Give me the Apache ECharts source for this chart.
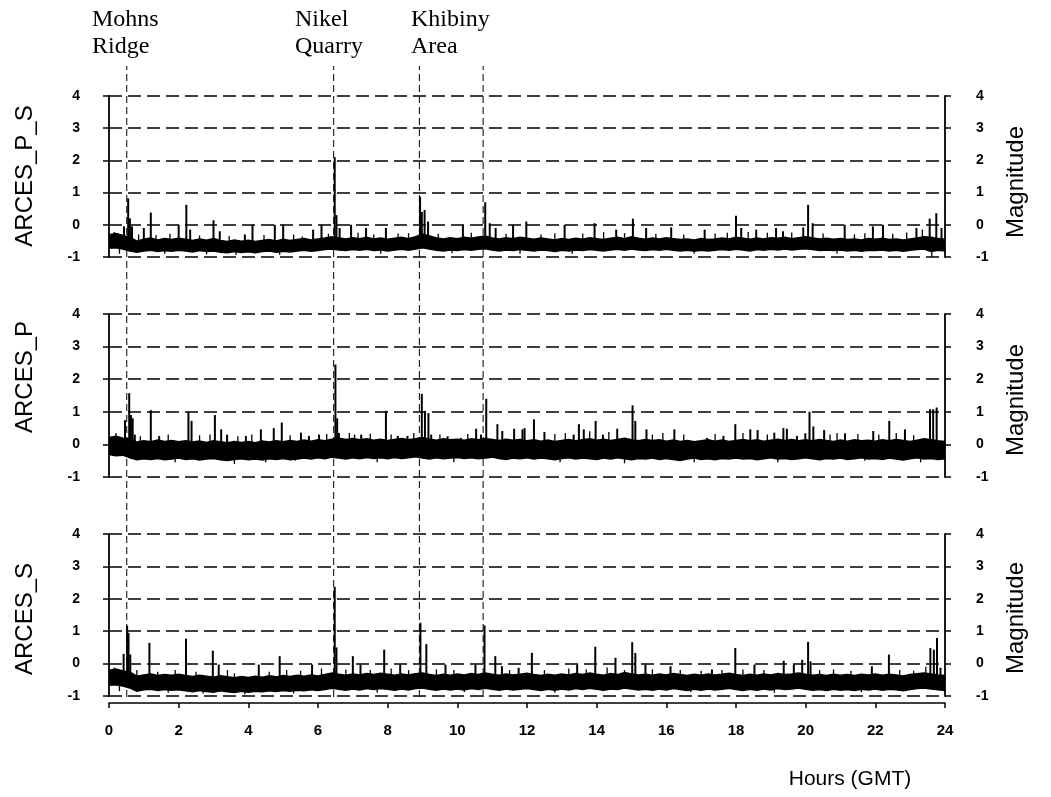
<!DOCTYPE html>
<html><head><meta charset="utf-8">
<script src="https://cdn.jsdelivr.net/npm/echarts@6/dist/echarts.min.js"></script>
<style>html,body{margin:0;padding:0;background:#fff}#c{width:1051px;height:797px}</style>
</head><body><div id="c"></div>
<script>
// ---------- data ----------
const panelNames = ['ARCES_P_S', 'ARCES_P', 'ARCES_S'];
const yTicks = [-1, 0, 1, 2, 3, 4];
const xTicks = [0, 2, 4, 6, 8, 10, 12, 14, 16, 18, 20, 22, 24];
const bandStep = 0.2; // hours between envelope samples

// upper / lower envelope of the noise band, every 0.2 h from 0 to 24
const hi1 = [-0.32,-0.28,-0.34,-0.40,-0.52,-0.46,-0.42,-0.48,-0.44,-0.47,
-0.43,-0.46,-0.50,-0.45,-0.49,-0.44,-0.50,-0.53,-0.48,-0.52,
-0.49,-0.53,-0.50,-0.47,-0.51,-0.46,-0.50,-0.47,-0.44,-0.48,
-0.45,-0.42,-0.38,-0.42,-0.45,-0.41,-0.44,-0.40,-0.45,-0.42,
-0.46,-0.43,-0.40,-0.44,-0.38,-0.30,-0.36,-0.42,-0.45,-0.41,
-0.44,-0.40,-0.43,-0.39,-0.36,-0.42,-0.45,-0.41,-0.44,-0.40,
-0.43,-0.46,-0.42,-0.45,-0.48,-0.44,-0.47,-0.43,-0.46,-0.41,
-0.44,-0.47,-0.43,-0.40,-0.44,-0.38,-0.43,-0.46,-0.42,-0.45,
-0.41,-0.44,-0.47,-0.45,-0.48,-0.44,-0.47,-0.45,-0.42,-0.45,
-0.40,-0.43,-0.46,-0.42,-0.45,-0.41,-0.43,-0.40,-0.44,-0.41,
-0.38,-0.42,-0.45,-0.43,-0.46,-0.44,-0.47,-0.45,-0.48,-0.44,
-0.46,-0.43,-0.47,-0.45,-0.48,-0.45,-0.42,-0.38,-0.40,-0.44,
-0.46];
const lo1 = [-0.72,-0.70,-0.74,-0.80,-0.84,-0.80,-0.78,-0.82,-0.79,-0.81,
-0.78,-0.80,-0.83,-0.79,-0.82,-0.80,-0.84,-0.86,-0.82,-0.85,
-0.83,-0.86,-0.82,-0.80,-0.84,-0.81,-0.83,-0.80,-0.78,-0.81,
-0.79,-0.76,-0.74,-0.77,-0.79,-0.76,-0.78,-0.75,-0.79,-0.77,
-0.80,-0.77,-0.75,-0.78,-0.74,-0.70,-0.74,-0.78,-0.80,-0.77,
-0.79,-0.76,-0.78,-0.75,-0.73,-0.77,-0.80,-0.77,-0.79,-0.76,
-0.78,-0.80,-0.77,-0.79,-0.82,-0.78,-0.80,-0.77,-0.79,-0.76,
-0.78,-0.80,-0.77,-0.75,-0.78,-0.74,-0.77,-0.79,-0.76,-0.78,
-0.75,-0.78,-0.80,-0.78,-0.81,-0.78,-0.80,-0.78,-0.76,-0.78,
-0.75,-0.77,-0.80,-0.76,-0.78,-0.75,-0.77,-0.74,-0.77,-0.75,
-0.73,-0.76,-0.79,-0.77,-0.79,-0.77,-0.80,-0.78,-0.81,-0.78,
-0.79,-0.77,-0.80,-0.78,-0.81,-0.78,-0.76,-0.74,-0.82,-0.78,
-0.80];
const hi2 = [0.20,0.24,0.18,0.16,0.06,0.10,0.07,0.12,0.08,0.11,
0.07,0.10,0.06,0.09,0.05,0.10,0.07,0.04,0.08,0.05,
0.08,0.04,0.09,0.06,0.10,0.07,0.11,0.08,0.12,0.09,
0.13,0.10,0.15,0.18,0.14,0.17,0.13,0.16,0.12,0.15,
0.11,0.14,0.17,0.13,0.16,0.20,0.15,0.12,0.16,0.13,
0.15,0.12,0.16,0.13,0.17,0.14,0.11,0.15,0.12,0.14,
0.10,0.13,0.09,0.12,0.08,0.11,0.14,0.10,0.13,0.16,
0.12,0.15,0.11,0.14,0.18,0.13,0.10,0.14,0.11,0.13,
0.09,0.12,0.08,0.11,0.07,0.10,0.13,0.09,0.12,0.08,
0.11,0.14,0.10,0.13,0.09,0.12,0.15,0.11,0.14,0.10,
0.13,0.10,0.14,0.11,0.08,0.12,0.09,0.13,0.10,0.12,
0.09,0.13,0.10,0.14,0.11,0.08,0.12,0.16,0.13,0.10,
0.08];
const lo2 = [-0.30,-0.34,-0.32,-0.40,-0.46,-0.43,-0.45,-0.42,-0.46,-0.44,
-0.41,-0.45,-0.43,-0.47,-0.44,-0.42,-0.46,-0.48,-0.45,-0.43,
-0.46,-0.44,-0.47,-0.43,-0.45,-0.42,-0.46,-0.44,-0.41,-0.44,
-0.40,-0.43,-0.38,-0.41,-0.44,-0.40,-0.43,-0.39,-0.42,-0.40,
-0.43,-0.39,-0.42,-0.40,-0.37,-0.41,-0.44,-0.40,-0.43,-0.41,
-0.39,-0.42,-0.40,-0.43,-0.41,-0.38,-0.42,-0.45,-0.41,-0.43,
-0.40,-0.44,-0.41,-0.43,-0.46,-0.42,-0.40,-0.44,-0.41,-0.43,
-0.45,-0.41,-0.44,-0.40,-0.43,-0.46,-0.42,-0.44,-0.41,-0.45,
-0.42,-0.45,-0.48,-0.44,-0.41,-0.45,-0.43,-0.46,-0.42,-0.44,
-0.41,-0.44,-0.42,-0.46,-0.43,-0.40,-0.44,-0.42,-0.45,-0.43,
-0.40,-0.43,-0.46,-0.42,-0.44,-0.41,-0.45,-0.43,-0.40,-0.44,
-0.42,-0.45,-0.41,-0.44,-0.47,-0.43,-0.40,-0.44,-0.42,-0.45,
-0.43];
const hi3 = [-0.22,-0.18,-0.24,-0.28,-0.40,-0.36,-0.33,-0.38,-0.35,-0.37,
-0.34,-0.38,-0.41,-0.37,-0.40,-0.43,-0.39,-0.42,-0.45,-0.41,
-0.44,-0.40,-0.43,-0.39,-0.42,-0.38,-0.41,-0.37,-0.40,-0.36,
-0.39,-0.35,-0.30,-0.34,-0.37,-0.33,-0.36,-0.32,-0.35,-0.31,
-0.34,-0.37,-0.33,-0.36,-0.32,-0.30,-0.35,-0.38,-0.34,-0.37,
-0.33,-0.36,-0.32,-0.35,-0.30,-0.34,-0.37,-0.33,-0.36,-0.34,
-0.31,-0.35,-0.38,-0.34,-0.37,-0.33,-0.36,-0.32,-0.35,-0.30,
-0.34,-0.37,-0.32,-0.35,-0.29,-0.33,-0.36,-0.34,-0.37,-0.33,
-0.36,-0.32,-0.35,-0.38,-0.34,-0.37,-0.33,-0.36,-0.34,-0.31,
-0.35,-0.38,-0.34,-0.37,-0.33,-0.36,-0.32,-0.35,-0.33,-0.30,
-0.34,-0.37,-0.35,-0.38,-0.34,-0.37,-0.35,-0.38,-0.34,-0.36,
-0.33,-0.37,-0.34,-0.36,-0.39,-0.35,-0.32,-0.30,-0.33,-0.36,
-0.38];
const lo3 = [-0.66,-0.64,-0.68,-0.74,-0.84,-0.80,-0.78,-0.82,-0.79,-0.81,
-0.80,-0.83,-0.86,-0.82,-0.85,-0.87,-0.83,-0.86,-0.88,-0.84,
-0.87,-0.84,-0.86,-0.83,-0.85,-0.82,-0.84,-0.81,-0.83,-0.80,
-0.82,-0.79,-0.75,-0.78,-0.81,-0.77,-0.80,-0.76,-0.79,-0.76,
-0.78,-0.81,-0.77,-0.80,-0.76,-0.74,-0.78,-0.81,-0.77,-0.80,
-0.77,-0.80,-0.76,-0.79,-0.75,-0.78,-0.81,-0.77,-0.80,-0.78,
-0.76,-0.79,-0.82,-0.78,-0.81,-0.77,-0.80,-0.76,-0.79,-0.75,
-0.78,-0.81,-0.77,-0.79,-0.74,-0.77,-0.80,-0.78,-0.81,-0.77,
-0.80,-0.76,-0.79,-0.82,-0.78,-0.81,-0.77,-0.80,-0.78,-0.75,
-0.79,-0.82,-0.78,-0.81,-0.77,-0.80,-0.76,-0.79,-0.77,-0.74,
-0.78,-0.81,-0.79,-0.82,-0.78,-0.81,-0.79,-0.82,-0.78,-0.80,
-0.77,-0.81,-0.78,-0.80,-0.83,-0.79,-0.76,-0.74,-0.77,-0.80,
-0.82];

// detections / spikes: [hour, peak magnitude]
const spikes1 = [[0.43,-0.05],[0.55,0.82],[0.60,0.2],[0.66,-0.05],[1.0,-0.1],[1.2,0.38],[2.0,0.0],[2.22,0.62],[2.33,-0.15],[3.0,0.14],[3.18,-0.2],[3.9,-0.3],[4.12,0.0],[4.76,0.0],[5.0,0.0],[5.86,-0.15],[6.1,0.0],[6.48,2.1],[6.53,0.3],[6.62,-0.1],[6.95,0.0],[7.38,-0.1],[7.95,-0.1],[8.93,0.88],[8.98,0.4],[9.06,0.46],[9.16,0.1],[10.16,0.0],[10.8,0.7],[10.93,0.05],[11.1,-0.1],[11.6,0.0],[11.98,0.1],[13.08,0.0],[13.94,0.05],[14.56,-0.15],[15.04,0.19],[15.42,-0.1],[16.14,-0.08],[17.1,-0.15],[18.0,0.28],[18.15,-0.1],[18.58,-0.15],[19.15,-0.1],[19.35,-0.2],[19.93,-0.08],[20.07,0.62],[20.2,0.05],[21.12,0.0],[21.93,-0.05],[22.22,0.0],[23.18,-0.1],[23.56,0.19],[23.75,0.36],[23.9,-0.1]];
const spikes2 = [[0.46,0.74],[0.58,1.57],[0.63,0.9],[0.68,0.8],[0.74,0.3],[1.2,1.05],[1.44,0.26],[2.28,1.0],[2.37,0.72],[3.04,0.9],[3.22,0.46],[3.39,0.3],[3.93,0.26],[4.36,0.46],[4.73,0.5],[4.96,0.67],[5.51,0.36],[5.74,0.26],[6.03,0.3],[6.5,2.45],[6.55,0.8],[6.6,0.35],[7.24,0.3],[7.95,1.03],[8.29,0.26],[8.57,0.26],[8.98,1.55],[9.07,1.03],[9.17,0.96],[9.25,0.3],[9.72,0.25],[10.1,0.2],[10.54,0.48],[10.68,0.3],[10.83,1.4],[11.15,0.62],[11.29,0.41],[11.63,0.48],[11.87,0.46],[11.93,0.5],[12.2,0.77],[12.5,0.38],[13.34,0.3],[13.49,0.62],[13.63,0.46],[13.97,0.72],[14.18,0.3],[14.59,0.48],[15.03,1.2],[15.11,0.72],[15.43,0.46],[16.23,0.46],[17.17,0.2],[17.64,0.26],[17.98,0.62],[18.41,0.46],[18.62,0.44],[19.1,0.36],[19.36,0.5],[19.46,0.48],[19.75,0.26],[19.99,0.34],[20.11,1.0],[20.22,0.55],[20.53,0.44],[21.13,0.34],[21.94,0.41],[22.4,0.72],[22.85,0.46],[23.57,1.08],[23.66,1.08],[23.76,1.13]];
const spikes3 = [[0.42,0.3],[0.52,1.17],[0.56,0.95],[0.61,0.28],[1.16,0.64],[2.21,0.77],[2.98,0.4],[3.15,-0.03],[4.3,-0.03],[4.9,0.23],[5.83,-0.03],[6.48,2.37],[6.53,0.5],[7.0,0.23],[7.22,-0.03],[7.9,0.43],[8.36,-0.03],[8.94,1.26],[9.11,0.6],[9.66,-0.03],[10.52,-0.03],[10.78,1.18],[11.09,0.23],[11.28,-0.08],[11.76,-0.13],[12.14,0.33],[13.44,-0.03],[13.96,0.52],[14.54,0.18],[15.02,0.66],[15.11,0.33],[15.4,-0.03],[16.12,-0.08],[17.31,-0.18],[17.98,0.48],[18.53,-0.03],[19.37,0.09],[19.66,-0.03],[19.9,0.12],[20.07,0.67],[20.14,0.07],[21.9,-0.08],[22.39,0.28],[23.58,0.48],[23.68,0.43],[23.77,0.79],[23.87,-0.13]];
// small excursions above / below the noise band: [hour, magnitude]
const minor1 = [[0.15,-0.22],[0.3,-0.9],[0.85,-0.3],[1.35,-0.32],[1.6,-0.9],[1.75,-0.28],[2.6,-0.33],[2.8,-0.92],[3.45,-0.35],[3.65,-0.94],[4.45,-0.32],[4.9,-0.93],[5.3,-0.3],[5.55,-0.36],[6.3,-0.28],[7.15,-0.25],[7.6,-0.3],[7.8,-0.9],[8.3,-0.27],[8.6,-0.26],[9.45,-0.28],[9.85,-0.88],[10.4,-0.25],[11.4,-0.28],[11.8,-0.9],[12.4,-0.3],[12.8,-0.26],[13.3,-0.9],[13.6,-0.27],[14.2,-0.23],[14.8,-0.26],[15.7,-0.28],[16.5,-0.3],[16.8,-0.9],[17.4,-0.27],[17.75,-0.25],[18.35,-0.22],[18.9,-0.25],[19.6,-0.24],[20.5,-0.27],[20.9,-0.9],[21.4,-0.3],[21.7,-0.26],[22.5,-0.28],[22.9,-0.24],[23.35,-0.15],[23.62,-1.0]];
const minor2 = [[0.2,0.35],[0.9,0.25],[1.7,0.3],[1.9,-0.55],[2.6,0.28],[2.9,0.3],[3.6,-0.6],[3.7,0.25],[4.1,0.3],[4.5,-0.55],[5.2,0.28],[5.35,-0.5],[6.25,0.32],[6.9,0.35],[7.05,0.3],[7.5,0.33],[7.7,-0.55],[8.1,0.3],[8.75,0.35],[9.5,0.3],[9.9,-0.55],[10.3,0.32],[12.8,0.32],[12.95,-0.55],[13.1,0.35],[13.8,0.4],[14.35,0.38],[14.8,-0.58],[15.6,0.3],[15.9,0.35],[16.5,0.3],[16.8,-0.55],[17.4,0.32],[18.2,0.35],[18.9,0.3],[19.2,-0.55],[20.7,0.3],[20.9,0.35],[21.5,0.32],[21.7,-0.5],[22.1,0.3],[22.6,0.35],[23.1,0.28],[23.3,-0.55]];
const minor3 = [[0.15,-0.12],[0.3,-0.85],[0.8,-0.2],[1.4,-0.25],[1.7,-0.9],[1.9,-0.2],[2.5,-0.25],[2.7,-0.92],[3.4,-0.2],[3.6,-0.3],[3.9,-0.95],[4.6,-0.25],[5.1,-0.2],[5.3,-0.92],[5.5,-0.22],[6.1,-0.15],[6.8,-0.18],[7.5,-0.2],[7.7,-0.9],[8.1,-0.15],[8.6,-0.2],[9.4,-0.18],[9.9,-0.2],[10.2,-0.88],[11.5,-0.2],[12.5,-0.2],[12.8,-0.9],[13.2,-0.15],[13.7,-0.18],[14.3,-0.12],[14.8,-0.2],[15.6,-0.18],[16.4,-0.2],[16.7,-0.88],[17.0,-0.22],[17.6,-0.2],[18.2,-0.18],[18.8,-0.2],[19.1,-0.9],[20.4,-0.2],[20.8,-0.18],[21.3,-0.22],[21.6,-0.88],[22.7,-0.2],[23.1,-0.22],[23.45,-0.1]];
const spikeBase = [-0.6, -0.15, -0.55];

// event marker lines (hours) and their labels
const eventHours = [0.51, 6.45, 8.91, 10.74];
const eventLabels = [['Mohns', 'Ridge'], ['Nikel', 'Quarry'], ['Khibiny', 'Area']];

// ---------- layout ----------
const bands = [[hi1, lo1], [hi2, lo2], [hi3, lo3]];
const spikes = [spikes1, spikes2, spikes3];
const minors = [minor1, minor2, minor3];
const gridTops = [96, 314, 534];
const gridHeights = [161, 163, 162];
const L = 109, R = 106;
const SANS = '"Liberation Sans", Arial, sans-serif';
const SERIF = '"Liberation Serif", "Times New Roman", serif';
const black = '#000';

const grid = gridTops.map((t, i) => ({ left: L, right: R, top: t, height: gridHeights[i] }));
grid.push({ left: L, right: R, top: 66, height: 631 });

const xAxis = [0, 1, 2].map(p => ({
  type: 'value', gridIndex: p, min: xTicks[0], max: xTicks[xTicks.length - 1], interval: 2,
  show: p === 2, offset: 7,
  axisLine: { onZero: false, lineStyle: { color: black, width: 1.5 } },
  axisTick: { length: 5, lineStyle: { color: black, width: 1.5 } },
  axisLabel: { color: black, fontWeight: 'bold', fontSize: 15, fontFamily: SANS, margin: 20 },
  splitLine: { show: false }
}));
xAxis.push({ type: 'value', gridIndex: 3, min: 0, max: 24, show: false });

const yAxis = [];
[0, 1, 2].forEach(p => {
  ['left', 'right'].forEach(pos => {
    yAxis.push({
      type: 'value', gridIndex: p, position: pos, min: yTicks[0], max: yTicks[yTicks.length - 1], interval: 1,
      axisLine: { show: true, onZero: false, lineStyle: { color: black, width: 1.8 } },
      axisTick: { show: true, length: 6, lineStyle: { color: black, width: 1.5 } },
      axisLabel: { color: black, fontWeight: 'bold', fontSize: 14, fontFamily: SANS, margin: pos === 'left' ? 29 : 31 },
      splitLine: { show: pos === 'left', lineStyle: { color: black, width: 1.5, type: [13, 6] } }
    });
  });
});
yAxis.push({ type: 'value', gridIndex: 3, min: 0, max: 1, show: false });

function stick(p, w) {
  return (params, api) => {
    const t = api.value(0), v = api.value(1);
    const a = api.coord([t, spikeBase[p]]), b = api.coord([t, v]);
    return { type: 'line', shape: { x1: a[0], y1: a[1], x2: b[0], y2: b[1] }, style: { stroke: black, lineWidth: w } };
  };
}

const series = [];
[0, 1, 2].forEach(p => {
  const [hi, lo] = bands[p];
  series.push({
    type: 'custom', xAxisIndex: p, yAxisIndex: 2 * p, clip: true, silent: true,
    data: [[0, 0]],
    renderItem: (params, api) => {
      const pts = [];
      for (let i = 0; i < hi.length; i++) pts.push(api.coord([i * bandStep, hi[i]]));
      for (let i = lo.length - 1; i >= 0; i--) pts.push(api.coord([i * bandStep, lo[i]]));
      return { type: 'polygon', shape: { points: pts }, style: { fill: black, stroke: black, lineWidth: 2.2, lineJoin: 'miter' } };
    }
  });
  series.push({ type: 'custom', xAxisIndex: p, yAxisIndex: 2 * p, clip: true, silent: true, data: minors[p], renderItem: stick(p, 1.3) });
  series.push({ type: 'custom', xAxisIndex: p, yAxisIndex: 2 * p, clip: true, silent: true, data: spikes[p], renderItem: stick(p, 2) });
});
series.push({
  type: 'custom', xAxisIndex: 3, yAxisIndex: 6, silent: true, z: 5,
  data: eventHours.map(h => [h]),
  renderItem: (params, api) => {
    const t = api.value(0);
    const a = api.coord([t, 0]), b = api.coord([t, 1]);
    return { type: 'line', shape: { x1: a[0], y1: a[1], x2: b[0], y2: b[1] }, style: { stroke: black, lineWidth: 1, lineDash: [7, 4] } };
  }
});

const graphic = [];
const labelX = [92, 295, 411];
eventLabels.forEach((lines, i) => {
  lines.forEach((s, j) => {
    graphic.push({ type: 'text', x: labelX[i], y: 20 + j * 27, style: { text: s, font: '24px ' + SERIF, fill: black, textAlign: 'left', textVerticalAlign: 'middle', align: 'left', verticalAlign: 'middle' } });
  });
});
const nameY = [176, 377, 619];
const magY = [182, 400, 618];
panelNames.forEach((n, i) => {
  graphic.push({ type: 'text', x: 25, y: nameY[i], rotation: Math.PI / 2, style: { text: n, font: '24px ' + SANS, fill: black, textAlign: 'center', textVerticalAlign: 'middle', align: 'center', verticalAlign: 'middle' } });
  graphic.push({ type: 'text', x: 1016, y: magY[i], rotation: Math.PI / 2, style: { text: 'Magnitude', font: '24px ' + SANS, fill: black, textAlign: 'center', textVerticalAlign: 'middle', align: 'center', verticalAlign: 'middle' } });
});
graphic.push({ type: 'text', x: 850, y: 779, style: { text: 'Hours (GMT)', font: '21px ' + SANS, fill: black, textAlign: 'center', textVerticalAlign: 'middle', align: 'center', verticalAlign: 'middle' } });

const chart = echarts.init(document.getElementById('c'));
chart.setOption({ animation: false, backgroundColor: '#fff', grid, xAxis, yAxis, series, graphic });
</script>
</body></html>
